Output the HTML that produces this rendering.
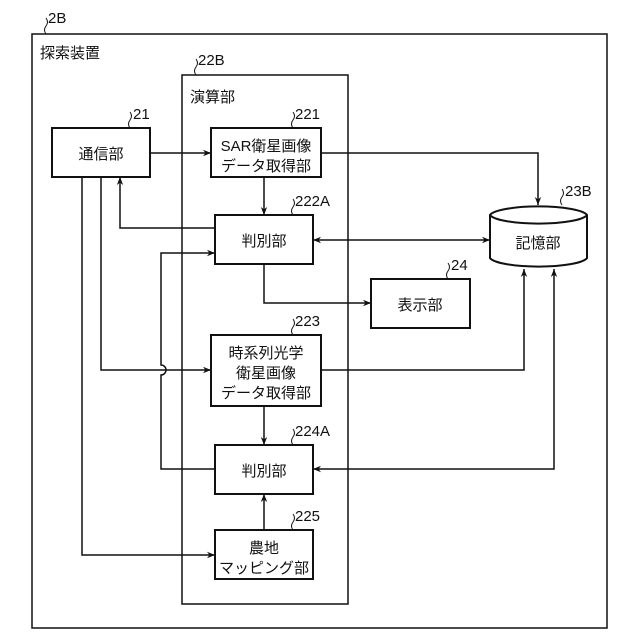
<!DOCTYPE html>
<html><head><meta charset="utf-8"><style>html,body{margin:0;padding:0;background:#fff}svg{display:block}text{font-family:"Liberation Sans","Noto Sans CJK JP",sans-serif;font-size:15px;fill:#111}</style></head><body>
<svg width="640" height="640" viewBox="0 0 640 640" xmlns="http://www.w3.org/2000/svg">
<defs><marker id="a" viewBox="0 0 10 10" refX="10" refY="5" markerWidth="8" markerHeight="8" orient="auto-start-reverse" markerUnits="userSpaceOnUse"><path d="M0,1 L10,5 L0,9 L3,5 z" fill="#111"/></marker></defs>
<g fill="none" stroke="#111" stroke-width="1.5">
<rect x="32" y="34" width="575" height="594"/>
<rect x="182" y="75" width="166" height="529"/>
<rect x="52" y="128" width="98" height="49" stroke-width="2"/>
<rect x="211" y="128" width="110" height="49" stroke-width="2"/>
<rect x="215" y="215" width="98" height="49" stroke-width="2"/>
<rect x="371" y="279" width="99" height="49" stroke-width="2"/>
<rect x="211" y="335" width="110" height="71" stroke-width="2"/>
<rect x="215" y="445" width="98" height="49" stroke-width="2"/>
<rect x="215" y="530" width="98" height="49" stroke-width="2"/>
<path d="M490,215 L490,258 A49,10 0 0 0 587,258 L587,215 A49,10 0 0 0 490,215 A49,10 0 0 0 587,215" stroke-width="2"/>
<path d="M150,153 H211" marker-end="url(#a)"/>
<path d="M321,153 H538 V205" marker-end="url(#a)"/>
<path d="M264,177 V215" marker-end="url(#a)"/>
<path d="M215,228 H120 V177" marker-end="url(#a)"/>
<path d="M313,240 H490" marker-start="url(#a)" marker-end="url(#a)"/>
<path d="M264,264 V303 H371" marker-end="url(#a)"/>
<path d="M215,469 H161 V375 A5,5 0 0 0 161,365 V253 H215" marker-end="url(#a)"/>
<path d="M101,177 V370 H211" marker-end="url(#a)"/>
<path d="M82,177 V555 H215" marker-end="url(#a)"/>
<path d="M321,370 H524 V269" marker-end="url(#a)"/>
<path d="M264,406 V445" marker-end="url(#a)"/>
<path d="M264,530 V494" marker-end="url(#a)"/>
<path d="M313,469 H554 V269" marker-start="url(#a)" marker-end="url(#a)"/>
<g stroke-width="1">
<path d="M46,34 q-3,-4 0,-8 q3,-4 0,-8"/>
<path d="M196,75 q-3,-4 0,-8 q3,-4 0,-8"/>
<path d="M130,128 q-3,-4 0,-8 q3,-4 0,-8"/>
<path d="M293,128 q-3,-4 0,-8 q3,-4 0,-8"/>
<path d="M293,215 q-3,-4 0,-8 q3,-4 0,-8"/>
<path d="M562,205 q-3,-4 0,-8 q3,-4 0,-8"/>
<path d="M448,279 q-3,-4 0,-8 q3,-4 0,-8"/>
<path d="M293,335 q-3,-4 0,-8 q3,-4 0,-8"/>
<path d="M293,445 q-3,-4 0,-8 q3,-4 0,-8"/>
<path d="M293,530 q-3,-4 0,-8 q3,-4 0,-8"/>
</g></g>
<text x="48" y="23">2B</text>
<text x="40" y="58">探索装置</text>
<text x="198" y="65">22B</text>
<text x="190" y="102">演算部</text>
<text x="133" y="119">21</text>
<text x="295" y="119">221</text>
<text x="295" y="206">222A</text>
<text x="565" y="196">23B</text>
<text x="451" y="270">24</text>
<text x="295" y="326">223</text>
<text x="295" y="436">224A</text>
<text x="295" y="521">225</text>
<g text-anchor="middle">
<text x="101" y="159">通信部</text>
<text x="266" y="151">SAR衛星画像</text>
<text x="266" y="171">データ取得部</text>
<text x="264" y="246">判別部</text>
<text x="420" y="310">表示部</text>
<text x="538" y="248">記憶部</text>
<text x="266" y="358">時系列光学</text>
<text x="266" y="378">衛星画像</text>
<text x="266" y="398">データ取得部</text>
<text x="264" y="476">判別部</text>
<text x="264" y="553">農地</text>
<text x="264" y="573">マッピング部</text>
</g>
</svg>
</body></html>
